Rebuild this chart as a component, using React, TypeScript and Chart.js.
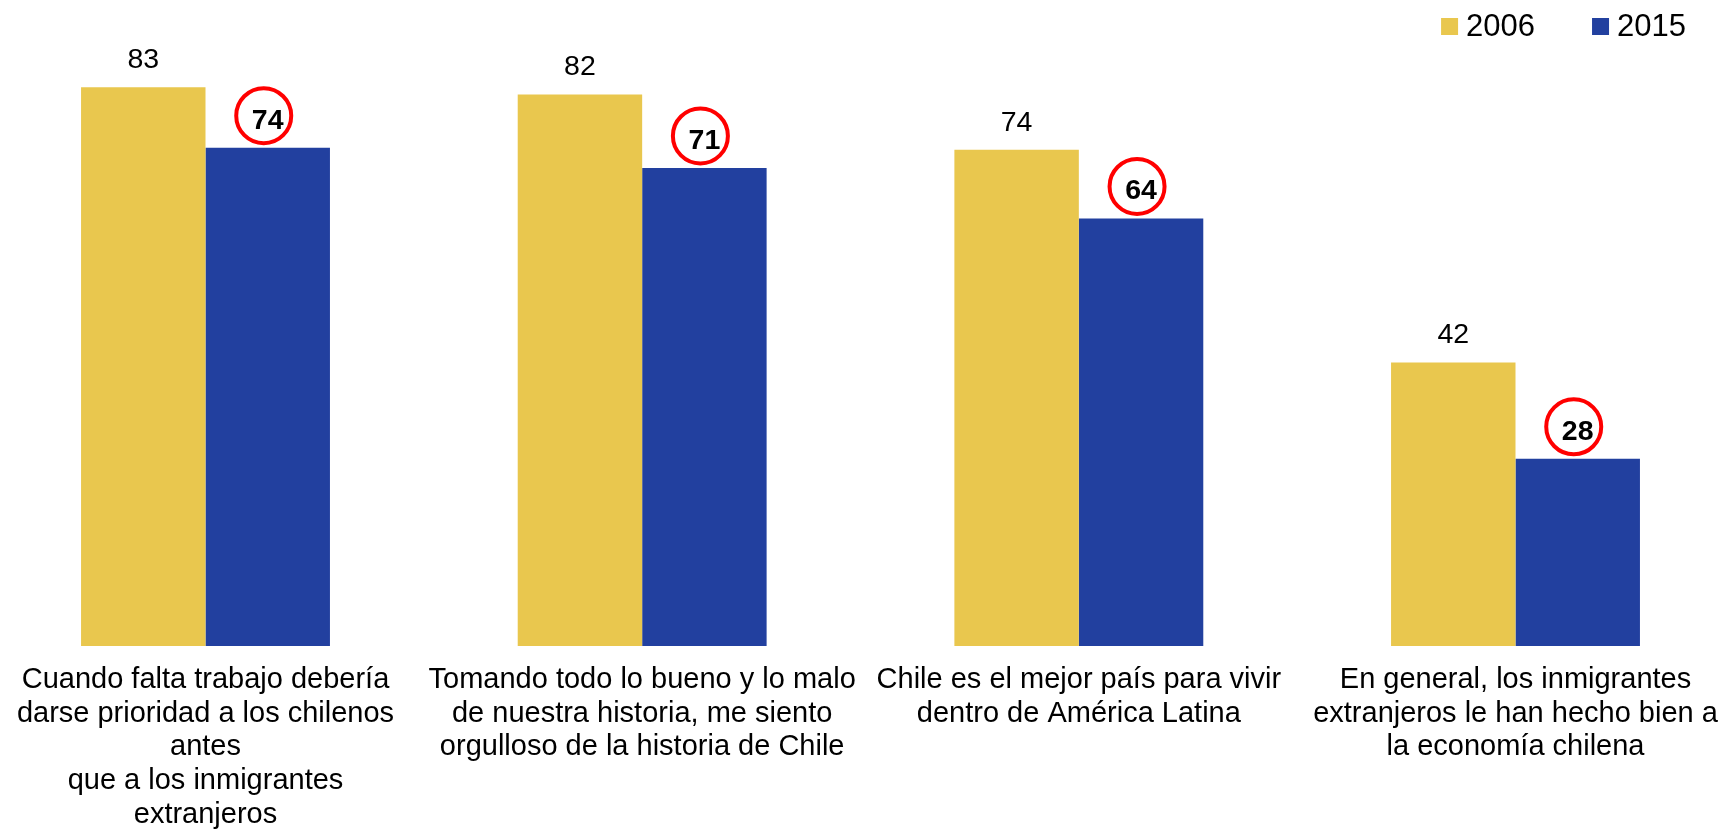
import { useEffect, useRef } from 'react';
import { Chart, registerables } from 'chart.js';

Chart.register(...registerables);

const categories: string[][] = [
  ['Cuando falta trabajo debería', 'darse prioridad a los chilenos', 'antes', 'que a los inmigrantes', 'extranjeros'],
  ['Tomando todo lo bueno y lo malo', 'de nuestra historia, me siento', 'orgulloso de la historia de Chile'],
  ['Chile es el mejor país para vivir', 'dentro de América Latina'],
  ['En general, los inmigrantes', 'extranjeros le han hecho bien a', 'la economía chilena'],
];
const seriesLabels = ['2006', '2015'];
const values2006 = [83, 81.9, 73.7, 42.1];
const values2015 = [74, 71, 63.5, 27.8];
const seriesColors = ['#E9C74E', '#22409F'];

const FONT = '"Liberation Sans", Arial, sans-serif';

const labelPlugin = {
  id: 'valueLabels',
  afterDatasetsDraw(chart: any) {
    const ctx = chart.ctx;
    ctx.save();
    chart.data.datasets.forEach((ds: any, di: number) => {
      const meta = chart.getDatasetMeta(di);
      meta.data.forEach((bar: any, i: number) => {
        const v = Math.round(ds.data[i]);
        const x = bar.x;
        const y = bar.y;
        ctx.textAlign = 'center';
        ctx.textBaseline = 'middle';
        ctx.fillStyle = '#000';
        if (di === 0) {
          ctx.font = `28.5px ${FONT}`;
          ctx.fillText(String(v), x, y - 27);
        } else {
          ctx.beginPath();
          ctx.arc(x - 4, y - 32, 27.5, 0, Math.PI * 2);
          ctx.lineWidth = 4;
          ctx.strokeStyle = '#FF0000';
          ctx.stroke();
          ctx.font = `bold 28.5px ${FONT}`;
          ctx.fillText(String(v), x, y - 27);
        }
      });
    });
    ctx.restore();
  },
};

const legendPlugin = {
  id: 'customLegend',
  afterDraw(chart: any) {
    const ctx = chart.ctx;
    ctx.save();
    ctx.font = `31px ${FONT}`;
    ctx.textBaseline = 'middle';
    ctx.textAlign = 'left';
    const box = 17;
    const gap = 8;
    const itemGap = 57;
    const widths = chart.data.datasets.map((d: any) => ctx.measureText(d.label).width);
    let total = 0;
    widths.forEach((w: number, i: number) => {
      total += box + gap + w + (i < widths.length - 1 ? itemGap : 0);
    });
    let x = 1686 - total;
    const cy = 26.5;
    chart.data.datasets.forEach((d: any, i: number) => {
      ctx.fillStyle = d.backgroundColor;
      ctx.fillRect(x, cy - box / 2, box, box);
      ctx.fillStyle = '#000';
      ctx.fillText(d.label, x + box + gap, cy + 1);
      x += box + gap + widths[i] + itemGap;
    });
    ctx.restore();
  },
};

export default function App() {
  const ref = useRef<HTMLCanvasElement | null>(null);

  useEffect(() => {
    document.body.style.margin = '0';
    if (!ref.current) return;
    const chart = new Chart(ref.current, {
      type: 'bar',
      data: {
        labels: categories as any,
        datasets: [
          { label: seriesLabels[0], data: values2006, backgroundColor: seriesColors[0], clip: false as any },
          { label: seriesLabels[1], data: values2015, backgroundColor: seriesColors[1], clip: false as any },
        ],
      },
      options: {
        animation: false,
        responsive: false,
        devicePixelRatio: 1,
        layout: { padding: { left: 205.5, right: 209.5, top: 40, bottom: 0 } },
        datasets: {
          bar: { categoryPercentage: 0.57, barPercentage: 1 },
        } as any,
        plugins: {
          legend: { display: false },
          tooltip: { enabled: false },
        },
        scales: {
          x: {
            offset: false,
            grid: { display: false, drawTicks: false },
            border: { display: false },
            ticks: {
              color: '#000',
              font: { family: FONT, size: 29, lineHeight: 1.164 },
              padding: 17,
              autoSkip: false,
              maxRotation: 0,
              minRotation: 0,
            },
            afterFit: (scale: any) => {
              scale.height = 184;
              scale.paddingLeft = 0;
              scale.paddingRight = 0;
            },
          },
          y: {
            display: false,
            min: 0,
            max: 90,
          },
        },
      },
      plugins: [labelPlugin, legendPlugin],
    });
    return () => chart.destroy();
  }, []);

  return (
    <div style={{ width: 1725, height: 830, background: '#fff' }}>
      <canvas ref={ref} width={1725} height={830} style={{ display: 'block' }} />
    </div>
  );
}
